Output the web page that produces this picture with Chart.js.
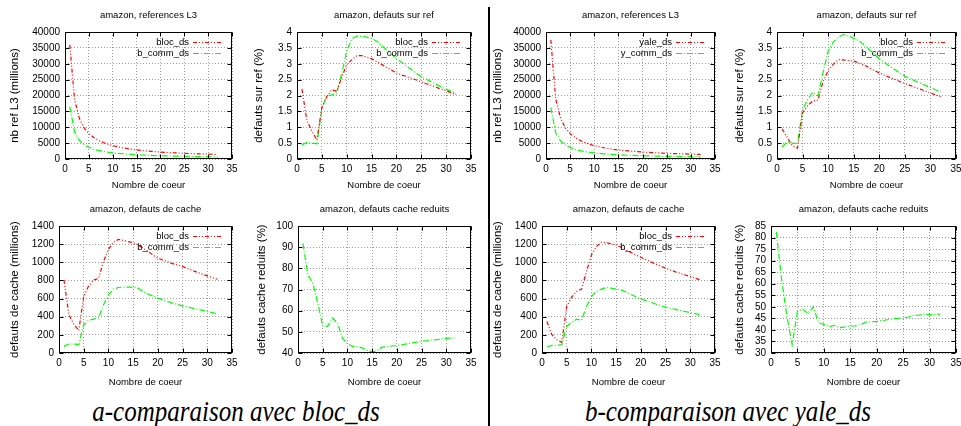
<!DOCTYPE html>
<html><head><meta charset="utf-8">
<script src="https://cdn.jsdelivr.net/npm/chart.js@4/dist/chart.umd.min.js"></script>
<style>
html,body{margin:0;padding:0;background:#fff;width:961px;height:426px;overflow:hidden;position:relative}
canvas{position:absolute}
.cap{position:absolute;top:396px;font-family:'Liberation Serif','DejaVu Serif',serif;font-style:italic;font-size:25px;line-height:29px;color:#000;white-space:nowrap;transform:translateX(-50%) scaleY(1.2);}
#divider{position:absolute;left:488px;top:7px;width:2px;height:419px;background:#000}
</style></head><body>
<div id="divider"></div>
<div class="cap" style="left:236px">a-comparaison avec bloc_ds</div>
<div class="cap" style="left:728px">b-comparaison avec yale_ds</div>
<script>
// ---------- data ----------
const cores = [1,2,3,4,5,6,7,8,9,10,11,12,13,14,15,16,17,18,19,20,21,22,23,24,25,26,27,28,29,30,31,32];
const xTicks = [0,5,10,15,20,25,30,35];

const refL3Ticks = [0,5000,10000,15000,20000,25000,30000,35000,40000];
const defRefTicks = [0,0.5,1,1.5,2,2.5,3,3.5,4];
const defCacheTicks = [0,200,400,600,800,1000,1200,1400];
const reduitsTicksA = [40,50,60,70,80,90,100];
const reduitsTicksB = [30,35,40,45,50,55,60,65,70,75,80,85];

// (a) comparaison avec bloc_ds
const refL3_bloc = [36000,18800,12800,9800,8000,6800,5900,5200,4650,4200,3850,3550,3300,3050,2850,2700,2550,2420,2300,2200,2100,2010,1930,1860,1790,1730,1680,1630,1590,1550,1500,1460];
const refL3_bcomm = [16500,8600,5900,4500,3700,3100,2700,2400,2150,1950,1780,1650,1530,1430,1340,1260,1190,1130,1080,1030,990,950,910,880,850,820,790,770,750,730,710,690];
const defRef_bloc_a = [2.2,1.2,0.88,0.6,1.62,1.97,2.18,2.13,2.58,2.97,3.12,3.25,3.26,3.21,3.16,3.07,2.98,2.89,2.8,2.71,2.65,2.6,2.54,2.49,2.43,2.37,2.32,2.26,2.2,2.15,2.09,2.03];
const defRef_bcomm_a = [0.45,0.52,0.5,0.48,1.6,1.98,2.02,2.08,2.69,3.4,3.78,3.87,3.86,3.84,3.79,3.72,3.58,3.44,3.3,3.16,3.05,2.93,2.82,2.7,2.59,2.51,2.43,2.35,2.27,2.2,2.13,2.06];
const defCache_bloc_a = [806,421,318,248,623,740,806,821,1008,1143,1220,1253,1242,1228,1217,1190,1155,1120,1080,1044,1025,1005,985,970,953,930,910,890,870,850,830,814];
const defCache_bcomm_a = [73,99,99,92,312,359,374,385,531,641,704,722,726,726,726,715,678,650,628,605,585,568,550,535,520,507,494,482,470,458,445,432];
const reduits_a = [91.8,76.9,73,63.6,52.9,52.6,56.5,54.1,47,44.4,43.1,43.1,42.4,41.3,40.5,41.1,42.8,43,43.3,43.6,43.9,44.3,44.7,45.1,45.5,45.8,46.1,46.3,46.6,46.9,47,47.2];

// (b) comparaison avec yale_ds
const refL3_yale = [37500,19000,12900,9800,8000,6800,5900,5200,4650,4200,3850,3550,3300,3050,2850,2700,2550,2420,2300,2200,2100,2010,1930,1860,1790,1730,1680,1630,1590,1550,1500,1460];
const refL3_ycomm = [16200,8300,5700,4400,3600,3050,2650,2350,2120,1930,1760,1630,1520,1420,1330,1250,1180,1120,1070,1020,980,940,900,870,840,810,785,765,745,725,705,685];
const defRef_bloc_b = [0.95,0.68,0.42,0.34,1.45,1.68,1.83,1.85,2.44,2.78,2.98,3.13,3.12,3.1,3.08,3.03,2.96,2.88,2.79,2.71,2.64,2.57,2.51,2.44,2.38,2.32,2.26,2.2,2.14,2.08,2.02,1.96];
const defRef_bcomm_b = [0.38,0.54,0.5,0.48,1.55,1.88,2.1,1.99,2.72,3.4,3.68,3.84,3.92,3.88,3.8,3.73,3.6,3.45,3.3,3.16,3.04,2.93,2.82,2.71,2.61,2.53,2.46,2.39,2.32,2.25,2.18,2.12];
const defCache_bloc_b = [348,202,147,117,513,616,678,704,898,1081,1173,1220,1217,1205,1191,1165,1135,1108,1080,1055,1030,1005,980,958,935,915,895,877,860,843,825,806];
const defCache_bcomm_b = [66,84,84,92,293,337,374,359,513,623,678,704,722,715,704,696,672,645,620,597,578,560,540,522,506,492,480,468,457,447,434,421];
const reduits_b = [82.5,62,46,33.5,48.1,49,47.1,50,43.1,42.4,41.4,42,41,41.3,41.7,41.7,42.4,43.4,43.5,43.7,44,44.4,44.8,45,45.3,45.6,46.3,46.4,46.8,46.6,46.6,46.8];

// ---------- styles ----------
const STY = {
  red:   {color:'#ff0000', dash:[4,2,1,2,1,2]},
  green: {color:'#00ff00', dash:[6,2,1,2]}
};
const FAM = "'Liberation Sans', Arial, Helvetica, sans-serif";

// ---------- gnuplot-like decorations ----------
const gpPlugin = {
  id: 'gp',
  afterDraw(chart, args, opts) {
    const ctx = chart.ctx, a = chart.chartArea;
    const L = Math.round(a.left)+0.5, R = Math.round(a.right)-0.5, T = Math.round(a.top)+0.5, B = Math.round(a.bottom)-0.5;
    ctx.save();
    ctx.setLineDash([]);
    ctx.strokeStyle = '#000'; ctx.lineWidth = 1;
    ctx.strokeRect(L, T, R-L, B-T);
    // inner ticks (mirrored)
    const xs = chart.scales.x, ys = chart.scales.y;
    ctx.beginPath();
    xs.ticks.forEach(t => {
      const p = Math.round(xs.getPixelForValue(t.value))+0.5;
      ctx.moveTo(p, B); ctx.lineTo(p, B-4);
      ctx.moveTo(p, T); ctx.lineTo(p, T+4);
    });
    ys.ticks.forEach(t => {
      const p = Math.round(ys.getPixelForValue(t.value))+0.5;
      ctx.moveTo(L, p); ctx.lineTo(L+4, p);
      ctx.moveTo(R, p); ctx.lineTo(R-4, p);
    });
    ctx.stroke();
    // title
    ctx.fillStyle = '#000';
    ctx.font = '9.5px ' + FAM;
    ctx.textAlign = 'center'; ctx.textBaseline = 'middle';
    ctx.fillText(opts.text, (a.left+a.right)/2, a.top - 17);
    // legend
    if (opts.legend) {
      chart.data.datasets.forEach((ds, i) => {
        const y = a.top + 10 + i*11;
        ctx.fillStyle = '#000';
        ctx.textAlign = 'right';
        ctx.fillText(ds.label, a.right - 43, y);
        ctx.beginPath();
        ctx.setLineDash(ds.borderDash);
        ctx.strokeStyle = ds.borderColor; ctx.lineWidth = ds.borderWidth;
        ctx.moveTo(a.right - 39, y+0.5); ctx.lineTo(a.right - 11, y+0.5);
        ctx.stroke();
      });
    }
    ctx.restore();
  }
};

// ---------- layout of the 8 panels ----------
const panels = [
  {box:[0,0,240,200],   plot:[65,32,232,159],  yPad:8.1,  xPad:9.3, title:'amazon, references L3', yTitle:'nb ref L3 (millions)', yt:refL3Ticks,
   series:[{label:'bloc_ds', values:refL3_bloc, style:'red'},{label:'b_comm_ds', values:refL3_bcomm, style:'green'}]},
  {box:[240,0,245,200], plot:[297,32,471,159], yPad:12.1, xPad:9.3, title:'amazon, defauts sur ref', yTitle:'defauts sur ref (%)', yt:defRefTicks,
   series:[{label:'bloc_ds', values:defRef_bloc_a, style:'red'},{label:'b_comm_ds', values:defRef_bcomm_a, style:'green'}]},
  {box:[485,0,240,200], plot:[546,32,715,159], yPad:5.8,  xPad:9.3, title:'amazon, references L3', yTitle:'nb ref L3 (millions)', yt:refL3Ticks,
   series:[{label:'yale_ds', values:refL3_yale, style:'red'},{label:'y_comm_ds', values:refL3_ycomm, style:'green'}]},
  {box:[725,0,236,200], plot:[777,32,956,159], yPad:8.1,  xPad:9.3, title:'amazon, defauts sur ref', yTitle:'defauts sur ref (%)', yt:defRefTicks,
   series:[{label:'bloc_ds', values:defRef_bloc_b, style:'red'},{label:'b_comm_ds', values:defRef_bcomm_b, style:'green'}]},
  {box:[0,200,240,195],   plot:[59,226,232,353],  yPad:8.1,  xPad:7.3, title:'amazon, defauts de cache', yTitle:'defauts de cache (millions)', yt:defCacheTicks,
   series:[{label:'bloc_ds', values:defCache_bloc_a, style:'red'},{label:'b_comm_ds', values:defCache_bcomm_a, style:'green'}]},
  {box:[240,200,245,195], plot:[298,226,471,353], yPad:14.8, xPad:7.3, title:'amazon, defauts cache reduits', yTitle:'defauts cache reduits (%)', yt:reduitsTicksA, noLegend:true,
   series:[{label:'reduits', values:reduits_a, style:'green'}]},
  {box:[485,200,240,195], plot:[542,226,715,353], yPad:5.8,  xPad:7.3, title:'amazon, defauts de cache', yTitle:'defauts de cache (millions)', yt:defCacheTicks,
   series:[{label:'bloc_ds', values:defCache_bloc_b, style:'red'},{label:'b_comm_ds', values:defCache_bcomm_b, style:'green'}]},
  {box:[725,200,236,195], plot:[771,226,956,353], yPad:8.1,  xPad:7.3, title:'amazon, defauts cache reduits', yTitle:'defauts cache reduits (%)', yt:reduitsTicksB, noLegend:true,
   series:[{label:'reduits', values:reduits_b, style:'green'}]}
];

function fmt(v){ return String(Math.round(v*100)/100); }

panels.forEach(p => {
  const [cl, ct, cw, ch] = p.box;
  const [pl, pt, pr, pb] = p.plot;
  const cv = document.createElement('canvas');
  cv.width = cw; cv.height = ch;
  cv.style.left = cl+'px'; cv.style.top = ct+'px';
  cv.style.width = cw+'px'; cv.style.height = ch+'px';
  document.body.appendChild(cv);
  const yt = p.yt;
  new Chart(cv, {
    type: 'line',
    data: { datasets: p.series.map(s => ({
      label: s.label,
      data: cores.map((c, i) => ({x: c, y: s.values[i]})),
      borderColor: STY[s.style].color,
      borderDash: STY[s.style].dash,
      borderWidth: 1.2,
      pointRadius: 0, fill: false, tension: 0
    }))},
    options: {
      responsive: false, animation: false, devicePixelRatio: 1,
      layout: {padding: {top: pt-ct, right: cl+cw-pr, bottom: 0, left: 0}},
      plugins: {
        legend: {display: false}, tooltip: {enabled: false}, title: {display: false},
        gp: {text: p.title, legend: !p.noLegend}
      },
      scales: {
        x: {
          type: 'linear', min: xTicks[0], max: xTicks[xTicks.length-1],
          afterBuildTicks: s => { s.ticks = xTicks.map(v => ({value: v})); },
          afterFit: s => { s.height = ct+ch-pb; s.paddingLeft = 0; s.paddingRight = 0; },
          ticks: {autoSkip: false, maxRotation: 0, padding: 4, color: '#000', font: {family: FAM, size: 10}, callback: fmt},
          grid: {color: '#9a9a9a', lineWidth: 1, drawTicks: false},
          border: {display: false, dash: [1,2]},
          title: {display: true, text: 'Nombre de coeur', color: '#000', font: {family: FAM, size: 9.5}, padding: {top: 0, bottom: p.xPad}}
        },
        y: {
          type: 'linear', min: yt[0], max: yt[yt.length-1],
          afterBuildTicks: s => { s.ticks = yt.map(v => ({value: v})); },
          afterFit: s => { s.width = pl-cl; s.paddingTop = 0; s.paddingBottom = 0; },
          ticks: {autoSkip: false, padding: 5, color: '#000', font: {family: FAM, size: 10}, callback: fmt},
          grid: {color: '#9a9a9a', lineWidth: 1, drawTicks: false},
          border: {display: false, dash: [1,2]},
          title: {display: true, text: p.yTitle, color: '#000', font: {family: FAM, size: 11.5}, padding: {top: p.yPad, bottom: 0}}
        }
      }
    },
    plugins: [gpPlugin]
  });
});
</script>
</body></html>
